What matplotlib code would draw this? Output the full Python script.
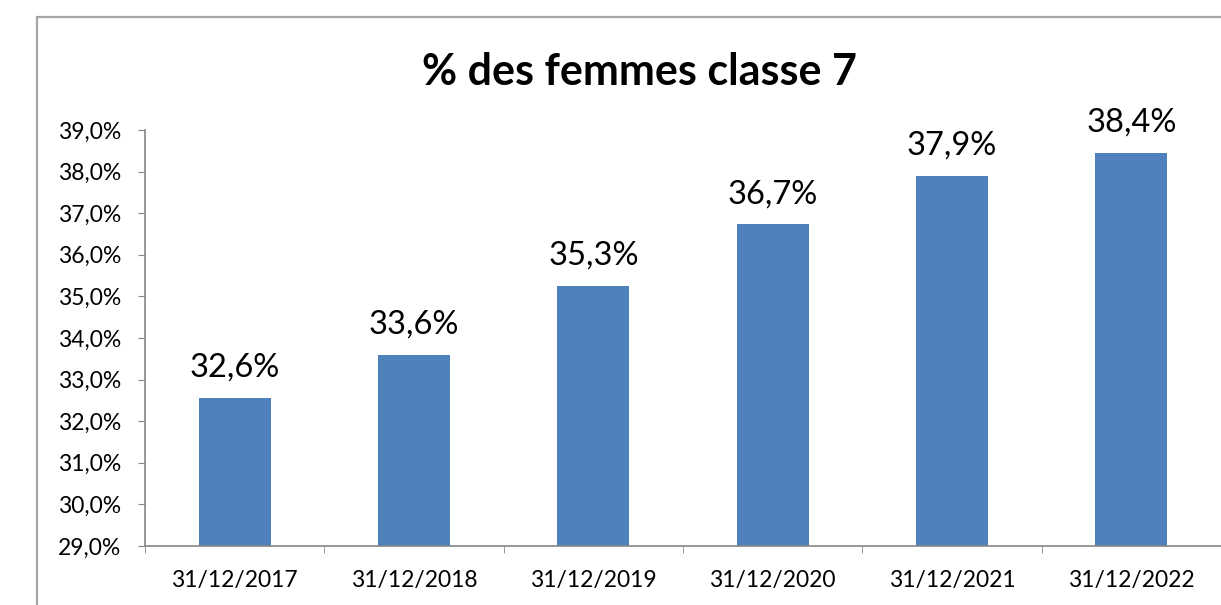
import matplotlib.pyplot as plt
from matplotlib.patches import Rectangle
from matplotlib.ticker import FuncFormatter
import numpy as np

# données
dates = ['31/12/2017', '31/12/2018', '31/12/2019', '31/12/2020', '31/12/2021', '31/12/2022']
pct_femmes = [32.56, 33.59, 35.26, 36.73, 37.89, 38.44]
y_ticks = [29, 30, 31, 32, 33, 34, 35, 36, 37, 38, 39]

plt.rcParams['font.family'] = ['Lato', 'DejaVu Sans']

fig = plt.figure(figsize=(12.21, 6.05), dpi=100)
W, H = 1221, 605

# cadre du graphique
fig.patches.append(Rectangle((37 / W, -0.1), 1.2, 1 - 17 / H + 0.1,
                             transform=fig.transFigure, fill=False,
                             edgecolor='#a6a6a6', linewidth=1.6))

ax = fig.add_axes([145 / W, 1 - 546 / H, 1 - 145 / W, (546 - 130) / H])

x = np.arange(len(dates))
bars = ax.bar(x, pct_femmes, width=0.40, color='#4f81bd', bottom=0,
              zorder=2)
ax.set_ylim(29, 39)
ax.set_xlim(-0.5, len(dates) - 0.5)

for b, v in zip(bars, pct_femmes):
    ax.annotate('{:.1f}%'.format(v).replace('.', ','),
                (b.get_x() + b.get_width() / 2, v),
                xytext=(0, 11), textcoords='offset points',
                ha='center', va='bottom', fontsize=23.5, color='black')

ax.set_yticks(y_ticks)
ax.yaxis.set_major_formatter(FuncFormatter(lambda v, p: '{:.1f}%'.format(v).replace('.', ',')))
ax.set_xticks(x)
ax.set_xticklabels(dates)
ax.set_xticks(np.arange(-0.5, len(dates), 1), minor=True)

ax.tick_params(axis='y', direction='out', length=5, color='#868686',
               labelsize=16.5, pad=12)
ax.tick_params(axis='x', which='major', length=0, labelsize=16.5, pad=17)
ax.tick_params(axis='x', which='minor', direction='out', length=5,
               color='#868686')

for s in ['top', 'right']:
    ax.spines[s].set_visible(False)
for s in ['left', 'bottom']:
    ax.spines[s].set_color('#868686')
    ax.spines[s].set_linewidth(1.2)

fig.text(639 / W, 1 - 72 / H, '% des femmes classe 7', ha='center',
         va='center', fontsize=31, fontweight='bold')

fig.savefig('out.png', dpi=100)
